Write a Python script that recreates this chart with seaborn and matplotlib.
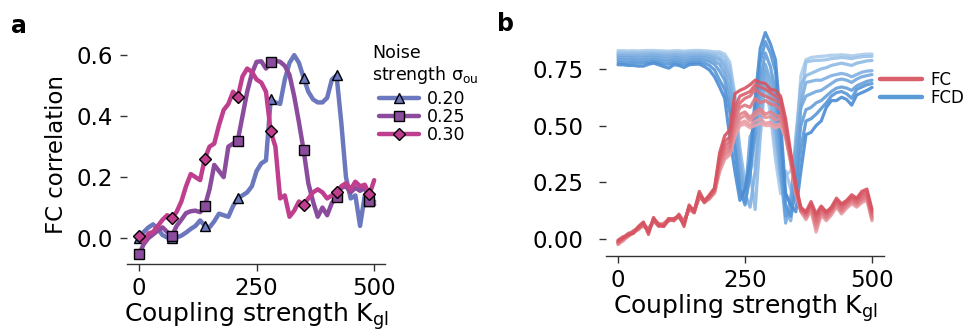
import numpy as np
import pandas as pd
import matplotlib
matplotlib.use("Agg")
import matplotlib.pyplot as plt
from matplotlib.lines import Line2D
import seaborn as sns

# ---------------- data ----------------
# panel a: FC correlation vs global coupling, one curve per noise strength
k_a = list(range(0, 510, 10))
noise_levels = ["0.20", "0.25", "0.30"]
fc_sigma_020 = [0.000, 0.020, 0.035, 0.045, 0.030, 0.010, 0.002, 0.000, 0.002, 0.008,
                0.018, 0.030, 0.040, 0.058, 0.040, 0.035, 0.055, 0.080, 0.075, 0.070,
                0.105, 0.130, 0.140, 0.150, 0.170, 0.220, 0.245, 0.255, 0.455, 0.445,
                0.440, 0.520, 0.575, 0.600, 0.575, 0.526, 0.480, 0.455, 0.445, 0.445,
                0.460, 0.520, 0.534, 0.380, 0.200, 0.130, 0.140, 0.040, 0.140, 0.120, 0.120]
fc_sigma_025 = [-0.053, -0.020, 0.000, 0.012, 0.025, 0.035, 0.020, 0.007, 0.040, 0.060,
                0.082, 0.088, 0.090, 0.085, 0.105, 0.160, 0.240, 0.220, 0.200, 0.300,
                0.310, 0.320, 0.400, 0.480, 0.540, 0.578, 0.580, 0.556, 0.578, 0.582,
                0.578, 0.565, 0.535, 0.465, 0.380, 0.288, 0.180, 0.120, 0.070, 0.100,
                0.075, 0.115, 0.135, 0.165, 0.170, 0.150, 0.165, 0.155, 0.165, 0.120, 0.110]
fc_sigma_030 = [0.007, -0.010, 0.015, 0.020, 0.040, 0.060, 0.075, 0.065, 0.086, 0.120,
                0.170, 0.210, 0.200, 0.190, 0.261, 0.300, 0.310, 0.370, 0.420, 0.440,
                0.480, 0.463, 0.530, 0.556, 0.545, 0.520, 0.510, 0.480, 0.350, 0.300,
                0.130, 0.140, 0.070, 0.090, 0.120, 0.110, 0.130, 0.150, 0.160, 0.150,
                0.130, 0.140, 0.150, 0.170, 0.180, 0.160, 0.185, 0.170, 0.175, 0.143, 0.190]

# panel b: FC and FCD fits for a sweep of eight model settings
k_b = list(range(0, 510, 10))
fc_0 = [-0.010, 0.005, 0.020, 0.025, 0.055, 0.075, 0.020, 0.095, 0.060, 0.055,
        0.090, 0.085, 0.105, 0.055, 0.150, 0.120, 0.210, 0.165, 0.195, 0.225,
        0.380, 0.455, 0.480, 0.640, 0.655, 0.665, 0.680, 0.700, 0.690, 0.685,
        0.660, 0.655, 0.630, 0.530, 0.380, 0.240, 0.140, 0.120, 0.165, 0.110,
        0.145, 0.120, 0.140, 0.180, 0.155, 0.170, 0.195, 0.180, 0.210, 0.220, 0.130]
fc_1 = [-0.005, 0.010, 0.015, 0.030, 0.050, 0.070, 0.030, 0.090, 0.065, 0.060,
        0.085, 0.090, 0.100, 0.065, 0.145, 0.125, 0.200, 0.170, 0.190, 0.220,
        0.360, 0.430, 0.450, 0.580, 0.630, 0.640, 0.650, 0.680, 0.670, 0.660,
        0.645, 0.630, 0.620, 0.500, 0.370, 0.230, 0.130, 0.115, 0.155, 0.100,
        0.140, 0.115, 0.135, 0.170, 0.150, 0.165, 0.185, 0.175, 0.200, 0.210, 0.120]
fc_2 = [-0.015, 0.000, 0.020, 0.035, 0.045, 0.070, 0.035, 0.085, 0.060, 0.065,
        0.090, 0.080, 0.110, 0.070, 0.140, 0.115, 0.195, 0.160, 0.185, 0.215,
        0.345, 0.410, 0.430, 0.560, 0.600, 0.620, 0.630, 0.660, 0.640, 0.630,
        0.620, 0.610, 0.600, 0.480, 0.360, 0.220, 0.135, 0.110, 0.150, 0.085,
        0.130, 0.110, 0.130, 0.165, 0.140, 0.160, 0.180, 0.165, 0.190, 0.200, 0.110]
fc_3 = [-0.020, 0.005, 0.025, 0.030, 0.050, 0.065, 0.040, 0.080, 0.055, 0.060,
        0.080, 0.085, 0.100, 0.075, 0.135, 0.120, 0.190, 0.165, 0.180, 0.210,
        0.330, 0.395, 0.410, 0.530, 0.580, 0.590, 0.580, 0.620, 0.600, 0.610,
        0.595, 0.590, 0.570, 0.470, 0.355, 0.225, 0.125, 0.105, 0.145, 0.070,
        0.125, 0.100, 0.125, 0.160, 0.130, 0.155, 0.175, 0.160, 0.180, 0.190, 0.100]
fc_4 = [-0.010, 0.000, 0.015, 0.025, 0.045, 0.060, 0.035, 0.085, 0.065, 0.055,
        0.085, 0.090, 0.095, 0.070, 0.140, 0.125, 0.185, 0.170, 0.185, 0.215,
        0.320, 0.380, 0.395, 0.500, 0.550, 0.560, 0.535, 0.560, 0.575, 0.550,
        0.560, 0.545, 0.540, 0.460, 0.350, 0.215, 0.130, 0.100, 0.140, 0.060,
        0.120, 0.095, 0.120, 0.155, 0.125, 0.150, 0.170, 0.155, 0.175, 0.185, 0.095]
fc_5 = [-0.025, -0.005, 0.010, 0.030, 0.040, 0.065, 0.045, 0.080, 0.060, 0.065,
        0.080, 0.085, 0.105, 0.080, 0.130, 0.115, 0.195, 0.160, 0.180, 0.205,
        0.310, 0.370, 0.385, 0.480, 0.530, 0.545, 0.520, 0.545, 0.560, 0.535,
        0.540, 0.525, 0.530, 0.455, 0.345, 0.210, 0.120, 0.095, 0.135, 0.050,
        0.115, 0.090, 0.115, 0.150, 0.120, 0.145, 0.165, 0.150, 0.170, 0.180, 0.090]
fc_6 = [-0.015, 0.005, 0.020, 0.035, 0.050, 0.060, 0.040, 0.075, 0.070, 0.060,
        0.090, 0.080, 0.100, 0.075, 0.135, 0.120, 0.185, 0.165, 0.175, 0.210,
        0.300, 0.360, 0.375, 0.460, 0.510, 0.520, 0.500, 0.520, 0.530, 0.510,
        0.515, 0.500, 0.510, 0.450, 0.340, 0.205, 0.125, 0.090, 0.130, 0.040,
        0.110, 0.085, 0.110, 0.145, 0.115, 0.140, 0.160, 0.145, 0.165, 0.175, 0.085]
fc_7 = [-0.020, -0.010, 0.015, 0.025, 0.045, 0.055, 0.045, 0.080, 0.065, 0.070,
        0.085, 0.090, 0.095, 0.080, 0.130, 0.125, 0.180, 0.170, 0.180, 0.200,
        0.295, 0.350, 0.370, 0.450, 0.500, 0.505, 0.490, 0.500, 0.510, 0.500,
        0.500, 0.490, 0.500, 0.445, 0.335, 0.200, 0.120, 0.085, 0.125, 0.030,
        0.105, 0.080, 0.105, 0.140, 0.110, 0.135, 0.155, 0.140, 0.160, 0.170, 0.080]

fcd_0 = [0.768, 0.768, 0.765, 0.765, 0.762, 0.762, 0.770, 0.775, 0.768, 0.760,
         0.753, 0.768, 0.765, 0.756, 0.768, 0.770, 0.771, 0.760, 0.745, 0.715,
         0.670, 0.620, 0.450, 0.300, 0.170, 0.220, 0.350, 0.620, 0.840, 0.910,
         0.860, 0.790, 0.520, 0.200, 0.150, 0.120, 0.300, 0.460, 0.470, 0.500,
         0.520, 0.580, 0.610, 0.610, 0.625, 0.615, 0.590, 0.635, 0.645, 0.655, 0.668]
fcd_1 = [0.778, 0.777, 0.776, 0.778, 0.775, 0.776, 0.779, 0.782, 0.778, 0.772,
         0.770, 0.778, 0.776, 0.770, 0.777, 0.779, 0.780, 0.775, 0.765, 0.745,
         0.700, 0.660, 0.560, 0.400, 0.220, 0.150, 0.280, 0.550, 0.780, 0.870,
         0.820, 0.740, 0.450, 0.150, 0.100, 0.220, 0.400, 0.520, 0.530, 0.550,
         0.575, 0.600, 0.630, 0.645, 0.650, 0.640, 0.620, 0.660, 0.670, 0.680, 0.685]
fcd_2 = [0.790, 0.789, 0.788, 0.790, 0.787, 0.788, 0.790, 0.792, 0.789, 0.785,
         0.783, 0.789, 0.788, 0.783, 0.788, 0.790, 0.791, 0.788, 0.782, 0.770,
         0.740, 0.700, 0.600, 0.420, 0.220, 0.160, 0.300, 0.450, 0.700, 0.820,
         0.760, 0.650, 0.380, 0.100, 0.120, 0.300, 0.500, 0.570, 0.580, 0.600,
         0.610, 0.630, 0.650, 0.665, 0.670, 0.665, 0.655, 0.675, 0.685, 0.695, 0.700]
fcd_3 = [0.800, 0.800, 0.799, 0.800, 0.798, 0.799, 0.801, 0.802, 0.800, 0.797,
         0.795, 0.800, 0.799, 0.795, 0.799, 0.800, 0.801, 0.799, 0.795, 0.785,
         0.770, 0.730, 0.650, 0.500, 0.300, 0.180, 0.450, 0.500, 0.620, 0.770,
         0.700, 0.580, 0.300, 0.070, 0.180, 0.400, 0.580, 0.630, 0.640, 0.650,
         0.655, 0.670, 0.685, 0.700, 0.705, 0.700, 0.690, 0.705, 0.715, 0.720, 0.725]
fcd_4 = [0.808, 0.808, 0.807, 0.808, 0.807, 0.807, 0.809, 0.810, 0.808, 0.806,
         0.805, 0.808, 0.807, 0.805, 0.808, 0.808, 0.809, 0.808, 0.805, 0.798,
         0.790, 0.760, 0.700, 0.550, 0.350, 0.200, 0.140, 0.300, 0.550, 0.740,
         0.650, 0.500, 0.280, 0.120, 0.080, 0.250, 0.600, 0.690, 0.695, 0.700,
         0.700, 0.710, 0.720, 0.725, 0.730, 0.725, 0.715, 0.725, 0.735, 0.740, 0.742]
fcd_5 = [0.815, 0.815, 0.814, 0.815, 0.814, 0.815, 0.816, 0.817, 0.815, 0.814,
         0.813, 0.815, 0.815, 0.813, 0.815, 0.816, 0.816, 0.815, 0.812, 0.808,
         0.800, 0.780, 0.730, 0.600, 0.400, 0.250, 0.300, 0.130, 0.450, 0.700,
         0.620, 0.450, 0.320, 0.200, 0.150, 0.450, 0.680, 0.720, 0.730, 0.740,
         0.750, 0.755, 0.765, 0.770, 0.775, 0.770, 0.765, 0.775, 0.780, 0.785, 0.787]
fcd_6 = [0.822, 0.822, 0.821, 0.822, 0.821, 0.822, 0.823, 0.823, 0.822, 0.821,
         0.820, 0.822, 0.822, 0.820, 0.822, 0.823, 0.823, 0.822, 0.820, 0.816,
         0.815, 0.800, 0.760, 0.620, 0.300, 0.160, 0.400, 0.450, 0.500, 0.720,
         0.580, 0.400, 0.250, 0.300, 0.220, 0.170, 0.600, 0.780, 0.785, 0.787,
         0.788, 0.790, 0.795, 0.797, 0.800, 0.798, 0.795, 0.800, 0.803, 0.805, 0.805]
fcd_7 = [0.830, 0.830, 0.829, 0.830, 0.829, 0.830, 0.831, 0.831, 0.830, 0.829,
         0.828, 0.830, 0.830, 0.828, 0.830, 0.831, 0.831, 0.830, 0.828, 0.825,
         0.825, 0.815, 0.780, 0.640, 0.320, 0.200, 0.300, 0.350, 0.550, 0.680,
         0.550, 0.350, 0.200, 0.280, 0.300, 0.400, 0.720, 0.790, 0.800, 0.803,
         0.805, 0.807, 0.810, 0.810, 0.812, 0.810, 0.807, 0.810, 0.813, 0.815, 0.815]

fc_curves = [fc_0, fc_1, fc_2, fc_3, fc_4, fc_5, fc_6, fc_7]
fcd_curves = [fcd_0, fcd_1, fcd_2, fcd_3, fcd_4, fcd_5, fcd_6, fcd_7]

# ---------------- style ----------------
sns.set_theme(style="ticks")
plt.rcParams["font.family"] = ["DejaVu Sans"]
plt.rcParams["mathtext.default"] = "regular"
for key in ("text.color", "axes.labelcolor", "xtick.labelcolor", "ytick.labelcolor"):
    plt.rcParams[key] = "black"

TICK_FS = 16.5
LABEL_FS = 18
LEG_FS = 12.5
axis_grey = "#333333"

noise_colors = {"0.20": "#6b78bd", "0.25": "#8b4c9d", "0.30": "#bf3f8e"}
noise_markers = {"0.20": "^", "0.25": "s", "0.30": "D"}
noise_msize = {"0.20": 6.5, "0.25": 6.5, "0.30": 6.0}

fc_palette = sns.blend_palette(["#d65461", "#eba5ab"], 8)
fcd_palette = sns.blend_palette(["#4a8dd3", "#a9cbec"], 8)

fig = plt.figure(figsize=(9.69, 3.32), dpi=100)
W, H = 969, 332


def px_axes(left, top, right, bottom):
    return fig.add_axes([left / W, 1 - bottom / H, (right - left) / W, (bottom - top) / H])


def style_axes(ax, ypad):
    for side in ("left", "top", "right"):
        ax.spines[side].set_visible(False)
    ax.spines["bottom"].set_color(axis_grey)
    ax.spines["bottom"].set_linewidth(1.0)
    ax.tick_params(axis="both", length=5, width=1.0, color=axis_grey,
                   labelsize=TICK_FS, labelcolor="black")
    ax.tick_params(axis="x", pad=4.5)
    ax.tick_params(axis="y", pad=ypad)
    ax.set_facecolor("white")


# ---------------- panel a ----------------
ax_a = px_axes(127, 46, 385, 264)
df_a = pd.DataFrame({
    "K": k_a * 3,
    "fc": fc_sigma_020 + fc_sigma_025 + fc_sigma_030,
    "sigma": sum([[s] * len(k_a) for s in noise_levels], []),
})
for s in noise_levels:
    sub = df_a[df_a["sigma"] == s]
    sns.lineplot(data=sub, x="K", y="fc", ax=ax_a, color=noise_colors[s],
                 linewidth=3.2, marker=noise_markers[s], markersize=noise_msize[s],
                 markerfacecolor=noise_colors[s], markeredgecolor="black",
                 markeredgewidth=1.0, markevery=7, legend=False)
ax_a.set_xlim(-25.5, 523)
ax_a.set_ylim(-0.085, 0.63)
ax_a.set_xticks([0, 250, 500])
ax_a.set_yticks([0.0, 0.2, 0.4, 0.6])
ax_a.set_yticklabels(["0.0", "0.2", "0.4", "0.6"])
style_axes(ax_a, ypad=5)
ax_a.set_xlabel("Coupling strength K$_{gl}$", fontsize=LABEL_FS, labelpad=0)
ax_a.set_ylabel("FC correlation", fontsize=TICK_FS, labelpad=6)

fig.text(372 / W, 1 - 58 / H, "Noise", fontsize=LEG_FS, va="baseline", ha="left")
fig.text(372 / W, 1 - 80 / H, "strength σ$_{ou}$", fontsize=LEG_FS, va="baseline", ha="left")
handles_a = [Line2D([0], [0], color=noise_colors[s], lw=3.2, marker=noise_markers[s],
                    markersize=noise_msize[s], markerfacecolor=noise_colors[s],
                    markeredgecolor="black", markeredgewidth=1.0) for s in noise_levels]
fig.legend(handles_a, noise_levels, loc="upper left",
           bbox_to_anchor=(379 / W, 1 - 90 / H), frameon=False, fontsize=LEG_FS,
           handlelength=2.3, handletextpad=0.45, labelspacing=0.0, borderpad=0,
           borderaxespad=0, numpoints=1)

# ---------------- panel b ----------------
ax_b = px_axes(606, 28, 884, 256)
df_fcd = pd.DataFrame({
    "K": k_b * len(fcd_curves),
    "value": sum(fcd_curves, []),
    "run": sum([[i] * len(k_b) for i in range(len(fcd_curves))], []),
})
df_fc = pd.DataFrame({
    "K": k_b * len(fc_curves),
    "value": sum(fc_curves, []),
    "run": sum([[i] * len(k_b) for i in range(len(fc_curves))], []),
})
# lightest runs first so the saturated ones sit on top
for i in reversed(range(len(fcd_curves))):
    sns.lineplot(data=df_fcd[df_fcd["run"] == i], x="K", y="value", ax=ax_b,
                 color=fcd_palette[i], linewidth=2.3, alpha=0.9, legend=False)
for i in reversed(range(len(fc_curves))):
    sns.lineplot(data=df_fc[df_fc["run"] == i], x="K", y="value", ax=ax_b,
                 color=fc_palette[i], linewidth=2.3, alpha=0.9, legend=False)
ax_b.set_xlim(-23.6, 523.6)
ax_b.set_ylim(-0.075, 0.93)
ax_b.set_xticks([0, 250, 500])
ax_b.set_yticks([0.0, 0.25, 0.5, 0.75])
ax_b.set_yticklabels(["0.00", "0.25", "0.50", "0.75"])
style_axes(ax_b, ypad=11)
ax_b.set_xlabel("Coupling strength K$_{gl}$", fontsize=LABEL_FS, labelpad=0)
ax_b.set_ylabel("")

handles_b = [Line2D([0], [0], color="#d9606b", lw=3.2),
             Line2D([0], [0], color="#5b9bd8", lw=3.2)]
fig.legend(handles_b, ["FC", "FCD"], loc="upper left",
           bbox_to_anchor=(880 / W, 1 - 71 / H), frameon=False, fontsize=12,
           handlelength=2.5, handletextpad=0.5, labelspacing=0.02, borderpad=0,
           borderaxespad=0)

# panel letters
fig.text(11 / W, 1 - 33 / H, "a", fontsize=17, fontweight="bold", va="baseline")
fig.text(497 / W, 1 - 31 / H, "b", fontsize=17, fontweight="bold", va="baseline")

fig.savefig("out.png", dpi=100, facecolor="white")
